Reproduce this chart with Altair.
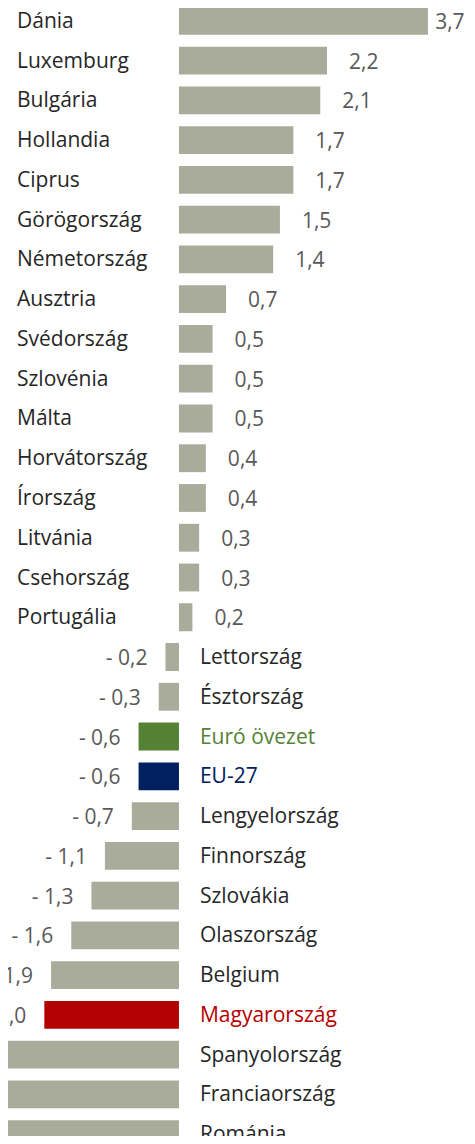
import altair as alt
import pandas as pd

countries = ["Dánia", "Luxemburg", "Bulgária", "Hollandia", "Ciprus", "Görögország",
             "Németország", "Ausztria", "Svédország", "Szlovénia", "Málta", "Horvátország",
             "Írország", "Litvánia", "Csehország", "Portugália", "Lettország", "Észtország",
             "Euró övezet", "EU-27", "Lengyelország", "Finnország", "Szlovákia", "Olaszország",
             "Belgium", "Magyarország", "Spanyolország", "Franciaország", "Románia"]
values = [3.7, 2.2, 2.1, 1.7, 1.7, 1.5, 1.4, 0.7, 0.5, 0.5, 0.5, 0.4, 0.4, 0.3, 0.3, 0.2,
          -0.2, -0.3, -0.6, -0.6, -0.7, -1.1, -1.3, -1.6, -1.9, -2.0, -2.9, -3.0, -3.3]

group_of = {"Euró övezet": "euro", "EU-27": "eu", "Magyarország": "hu"}
groups = ["other", "euro", "eu", "hu"]
bar_colors = ["#A9AC9B", "#548235", "#002060", "#B40000"]
text_colors = ["#262626", "#548235", "#002060", "#B40000"]

df = pd.DataFrame({"name": countries, "v": values})
df["group"] = [group_of.get(c, "other") for c in countries]

W, H = 459, 1128
FONT = "Open Sans"
FS = 21

base = alt.Chart(df).transform_calculate(
    lab="(datum.v < 0 ? '- ' : '') + replace(format(abs(datum.v), '.1f'), '.', ',')",
    lx="min(datum.v, 3.48)",
)

xscale = alt.Scale(domain=[-2.54, 4.28], nice=False, zero=False)
yscale = alt.Scale(range=[-7.0, 1146.0], paddingInner=0.3, paddingOuter=0.15)
yenc = alt.Y("name:N", sort=countries, scale=yscale, axis=None)

bars = base.mark_bar(clip=True).encode(
    x=alt.X("v:Q", scale=xscale, axis=None),
    x2=alt.datum(0),
    y=yenc,
    color=alt.Color("group:N", scale=alt.Scale(domain=groups, range=bar_colors), legend=None),
)

pos_val = base.transform_filter("datum.v > 0").mark_text(
    align="left", baseline="middle", dx=22, dy=2, font=FONT, fontSize=FS, color="#595959", clip=True
).encode(x=alt.X("lx:Q", scale=xscale), y=yenc, text="lab:N")

neg_val = base.transform_filter("datum.v < 0").mark_text(
    align="right", baseline="middle", dx=-18, dy=2, font=FONT, fontSize=FS, color="#595959", clip=True
).encode(x=alt.X("v:Q", scale=xscale), y=yenc, text="lab:N")

tcolor = alt.Color("group:N", scale=alt.Scale(domain=groups, range=text_colors), legend=None)

pos_name = base.transform_filter("datum.v > 0").mark_text(
    align="left", baseline="middle", dy=1, font=FONT, fontSize=FS
).encode(x=alt.value(9), y=yenc, text="name:N", color=tcolor)

neg_name = base.transform_filter("datum.v < 0").mark_text(
    align="left", baseline="middle", dx=21, dy=1, font=FONT, fontSize=FS
).encode(x=alt.X("zero:Q", scale=xscale), y=yenc, text="name:N", color=tcolor).transform_calculate(zero="0")

chart = alt.layer(bars, pos_val, neg_val, pos_name, neg_name).resolve_scale(
    color="independent"
).properties(
    width=W, height=H, padding=0, autosize=alt.AutoSizeParams(type="none")
).configure_view(stroke=None)

chart.save("out.html", embed_options={"renderer": "svg", "actions": False})
